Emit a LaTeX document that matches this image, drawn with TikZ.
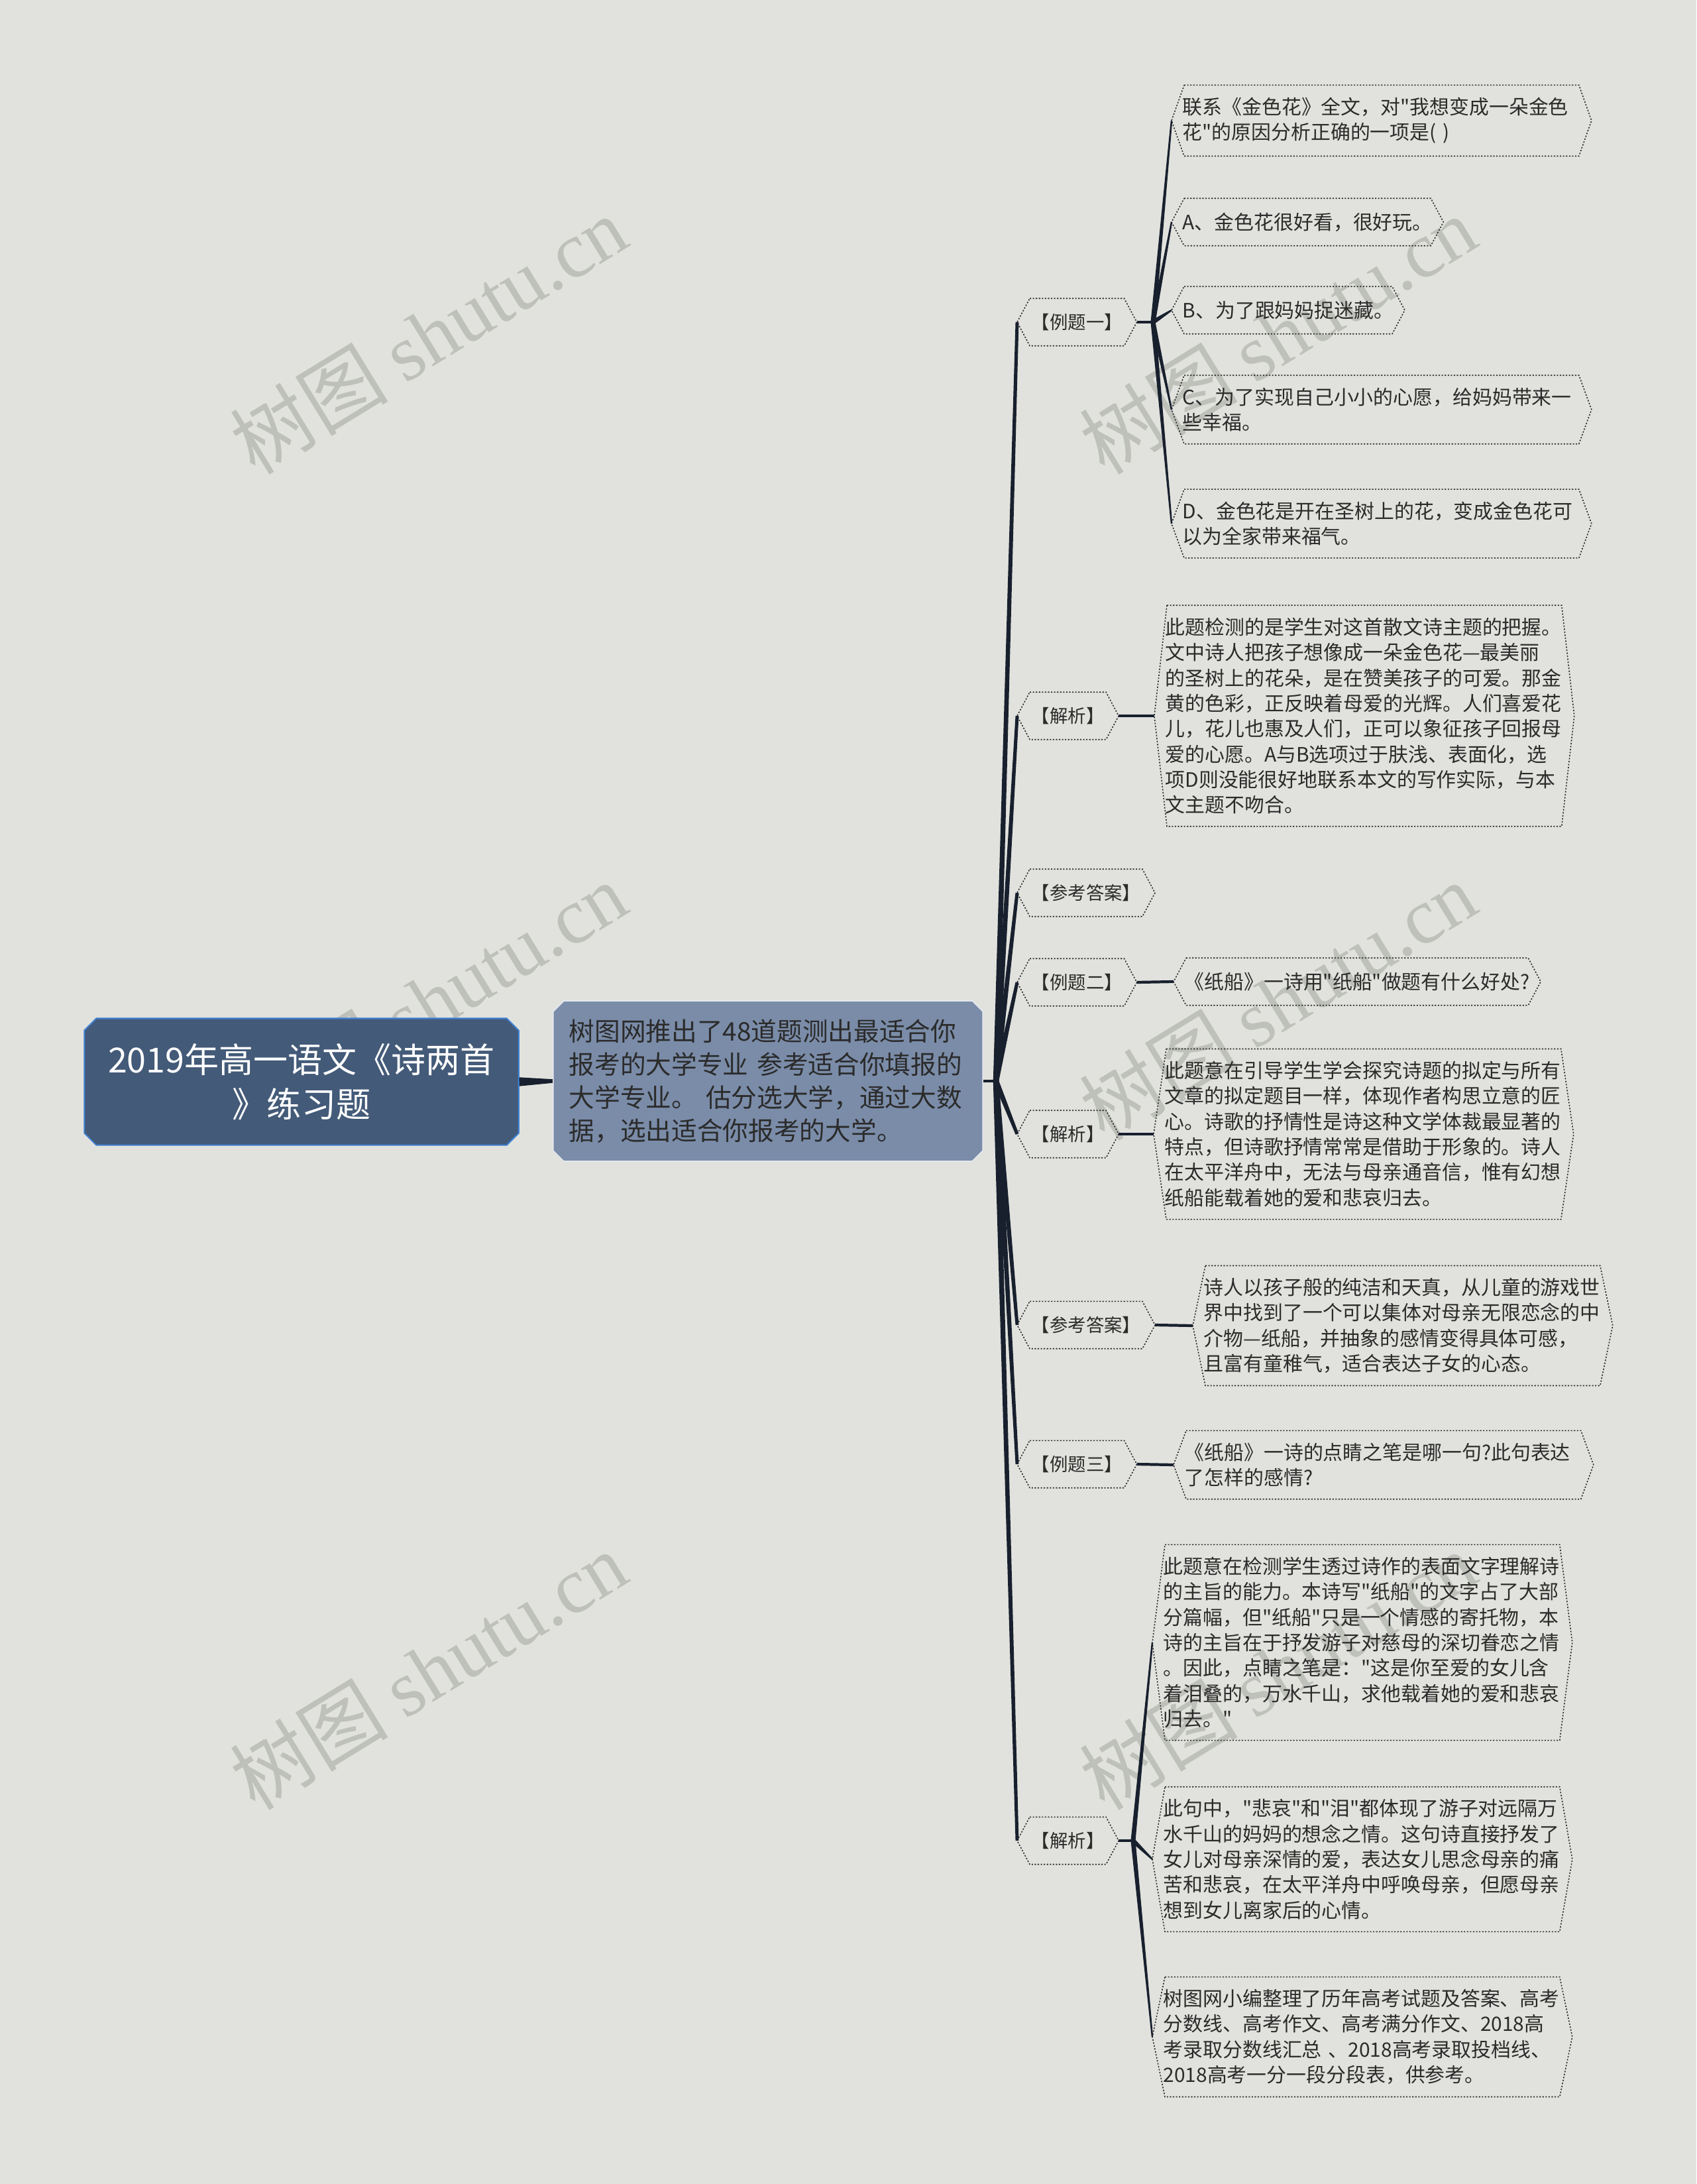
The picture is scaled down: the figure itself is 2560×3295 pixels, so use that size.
\documentclass[tikz,border=0pt]{standalone}
\usepackage{fontspec}
\setmainfont{Noto Sans CJK SC}[Ligatures=TeXOff]
\newfontfamily\wmfont{Liberation Serif}
\usepackage{xcolor}
\usepackage{tikz}
\usetikzlibrary{calc,shapes.misc}
\definecolor{bg}{HTML}{E1E2DD}
\definecolor{ink}{HTML}{2B2B2B}
\definecolor{wirec}{HTML}{18202E}
\definecolor{rootfill}{HTML}{435A78}
\definecolor{rootline}{HTML}{3F7FD0}
\definecolor{sumfill}{HTML}{7A8CA8}
\definecolor{wm}{HTML}{BEC0BA}
\tikzset{
  link/.style={fill=wirec},
  bar/.style={draw=wirec, line width=1.2pt},
  hexa/.style={draw=ink, line width=0.45pt, dash pattern=on 0.6pt off 0.7pt},
  lab/.style={anchor=west, text=ink, font=\fontsize{7.8}{9}\selectfont, inner xsep=0.21cm, minimum height=0.7cm},
  txt/.style={anchor=west, text=ink, font=\fontsize{8.5}{10.9}\selectfont, inner xsep=0.16cm, inner ysep=0.18cm, minimum height=0.7cm, align=left},
  wide/.style={txt, text width=6cm},
  root/.style={chamfered rectangle, chamfered rectangle xsep=0.09cm, chamfered rectangle ysep=0.09cm,
    fill=rootfill, draw=rootline, line width=0.6pt, text=white, font=\fontsize{14.8}{19}\selectfont,
    align=center, minimum width=6.55cm, minimum height=1.91cm},
  sum/.style={chamfered rectangle, chamfered rectangle xsep=0.06cm, chamfered rectangle ysep=0.1cm,
    fill=sumfill, draw=white!80!sumfill, line width=0.5pt, text=ink, font=\fontsize{11}{14.2}\selectfont,
    align=left, text width=6cm, inner xsep=0.18cm, minimum height=2.42cm},
  wmark/.style={text=wm, font=\fontsize{34}{34}\selectfont, rotate=31.5},
}
% tapered connector: from, to, half width at start, half width at end
\newcommand{\twig}[4]{\fill[link] ($(#1)!#3!90:(#2)$) -- ($(#2)!#4!-90:(#1)$) -- ($(#2)!#4!90:(#1)$) -- ($(#1)!#3!-90:(#2)$) -- cycle;}

\begin{document}
\begin{tikzpicture}[x=0.01cm,y=-0.01cm]
  \useasboundingbox (0,0) rectangle (2560,3295);
  \fill[bg] (0,0) rectangle (2560,3295);
  % watermarks
  \foreach \x/\y [count=\i] in {646/505,1928/505,646/1510,1928/1510,646/2520,1928/2520}
    \node[wmark] (wm\i) at (\x,\y) {树图 {\wmfont shutu.cn}};

  \node[root] (root) at (455,1632) {2019年高一语文《诗两首\\》练习题};
  \node[sum] (sum) at (1159,1631) {树图网推出了48道题测出最适合你\\报考的大学专业 参考适合你填报的\\大学专业。 估分选大学，通过大数\\据，选出适合你报考的大学。};
  \coordinate (hub) at (1503,1631);

  \node[lab] (ex1) at (1535,486) {【例题一】};
  \node[lab] (an1) at (1535,1080) {【解析】};
  \node[lab] (ck1) at (1535,1347) {【参考答案】};
  \node[lab] (ex2) at (1535,1482) {【例题二】};
  \node[lab] (an2) at (1535,1711) {【解析】};
  \node[lab] (ck2) at (1535,1999) {【参考答案】};
  \node[lab] (ex3) at (1535,2209) {【例题三】};
  \node[lab] (an3) at (1535,2777) {【解析】};

  \node[wide] (q1) at (1768,182) {联系《金色花》全文，对"我想变成一朵金色\\花"的原因分析正确的一项是( )};
  \node[txt] (a1) at (1768,335) {A、金色花很好看，很好玩。};
  \node[txt] (b1) at (1768,468) {B、为了跟妈妈捉迷藏。};
  \node[wide] (c1) at (1768,618) {C、为了实现自己小小的心愿，给妈妈带来一\\些幸福。};
  \node[wide] (d1) at (1768,790) {D、金色花是开在圣树上的花，变成金色花可\\以为全家带来福气。};
  \node[wide] (t1) at (1742,1080) {此题检测的是学生对这首散文诗主题的把握。\\文中诗人把孩子想像成一朵金色花—最美丽\\的圣树上的花朵，是在赞美孩子的可爱。那金\\黄的色彩，正反映着母爱的光辉。人们喜爱花\\儿，花儿也惠及人们，正可以象征孩子回报母\\爱的心愿。A与B选项过于肤浅、表面化，选\\项D则没能很好地联系本文的写作实际，与本\\文主题不吻合。};
  \node[txt] (q2) at (1771,1481) {《纸船》一诗用"纸船"做题有什么好处?};
  \node[wide] (t2) at (1741,1711) {此题意在引导学生学会探究诗题的拟定与所有\\文章的拟定题目一样，体现作者构思立意的匠\\心。诗歌的抒情性是诗这种文学体裁最显著的\\特点，但诗歌抒情常常是借助于形象的。诗人\\在太平洋舟中，无法与母亲通音信，惟有幻想\\纸船能载着她的爱和悲哀归去。};
  \node[wide] (k2) at (1800,2000) {诗人以孩子般的纯洁和天真，从儿童的游戏世\\界中找到了一个可以集体对母亲无限恋念的中\\介物—纸船，并抽象的感情变得具体可感，\\且富有童稚气，适合表达子女的心态。};
  \node[wide] (q3) at (1771,2210) {《纸船》一诗的点睛之笔是哪一句?此句表达\\了怎样的感情?};
  \node[wide] (t3) at (1739,2478) {此题意在检测学生透过诗作的表面文字理解诗\\的主旨的能力。本诗写"纸船"的文字占了大部\\分篇幅，但"纸船"只是一个情感的寄托物，本\\诗的主旨在于抒发游子对慈母的深切眷恋之情\\。因此，点睛之笔是："这是你至爱的女儿含\\着泪叠的，万水千山，求他载着她的爱和悲哀\\归去。"};
  \node[wide] (u3) at (1739,2805) {此句中，"悲哀"和"泪"都体现了游子对远隔万\\水千山的妈妈的想念之情。这句诗直接抒发了\\女儿对母亲深情的爱，表达女儿思念母亲的痛\\苦和悲哀，在太平洋舟中呼唤母亲，但愿母亲\\想到女儿离家后的心情。};
  \node[wide] (v3) at (1739,3073) {树图网小编整理了历年高考试题及答案、高考\\分数线、高考作文、高考满分作文、2018高\\考录取分数线汇总 、2018高考录取投档线、\\2018高考一分一段分段表，供参考。};

  % dotted hexagon outlines
  \foreach \n in {ex1,an1,ck1,ex2,an2,ck2,ex3,an3,q1,a1,b1,c1,d1,t1,q2,t2,k2,q3,t3,u3,v3}
    \draw[hexa] ($(\n.north west)+(19,0)$) -- ($(\n.north east)+(-19,0)$) -- (\n.east)
      -- ($(\n.south east)+(-19,0)$) -- ($(\n.south west)+(19,0)$) -- (\n.west) -- cycle;

  % connectors
  \twig{root.east}{sum.west}{1.9pt}{0.8pt}
  \draw[bar] (sum.east) -- (hub);
  \foreach \n in {ex1,an1,ck1,ex2,an2,ck2,ex3,an3} {\twig{hub}{\n.west}{1.2pt}{0.7pt}}
  \coordinate (j1) at (1740,486);
  \draw[bar] (ex1.east) -- (j1);
  \foreach \n in {q1,a1,b1,c1,d1} {\twig{j1}{\n.west}{1pt}{0.35pt}}
  \draw[bar] (an1.east) -- (t1.west);
  \draw[bar] (ex2.east) -- (q2.west);
  \draw[bar] (an2.east) -- (t2.west);
  \draw[bar] (ck2.east) -- (k2.west);
  \draw[bar] (ex3.east) -- (q3.west);
  \coordinate (j3) at (1710,2777);
  \draw[bar] (an3.east) -- (j3);
  \foreach \n in {t3,u3,v3} {\twig{j3}{\n.west}{1pt}{0.35pt}}
\end{tikzpicture}
\end{document}
